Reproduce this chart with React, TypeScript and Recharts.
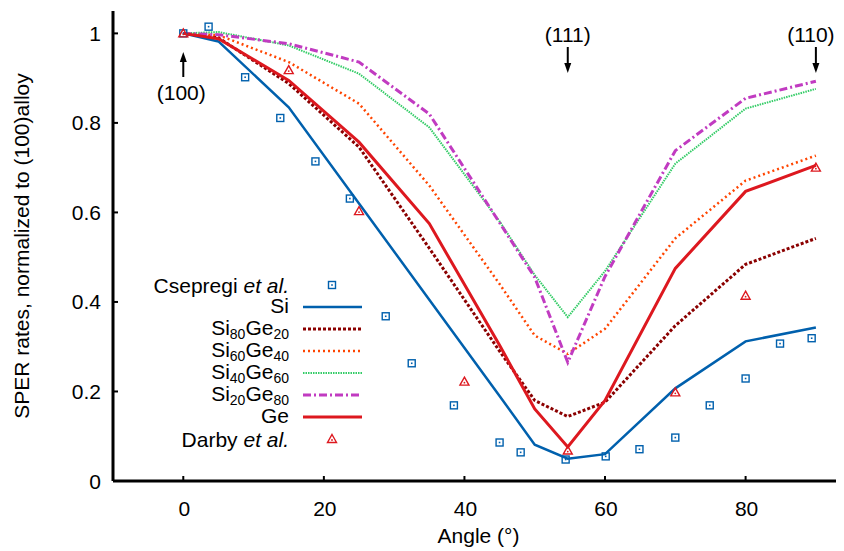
import React from "react";
import {
  ComposedChart,
  Line,
  Scatter,
  XAxis,
  YAxis,
  ReferenceDot,
  Legend,
} from "recharts";

// model curves, all computed at the same angles
const angles = [0, 5, 15, 25, 35, 45, 50, 54.7, 60, 70, 80, 90];
const siRate = [1, 0.982, 0.835, 0.62, 0.405, 0.19, 0.081, 0.05, 0.06, 0.207, 0.312, 0.343];
const si80ge20Rate = [1, 0.99, 0.888, 0.746, 0.52, 0.29, 0.18, 0.144, 0.176, 0.347, 0.484, 0.542];
const si60ge40Rate = [1, 0.996, 0.936, 0.843, 0.66, 0.44, 0.325, 0.284, 0.34, 0.542, 0.671, 0.727];
const si40ge60Rate = [1, 1.003, 0.973, 0.91, 0.79, 0.58, 0.46, 0.366, 0.469, 0.709, 0.832, 0.876];
const si20ge80Rate = [1, 0.997, 0.977, 0.936, 0.82, 0.577, 0.455, 0.265, 0.457, 0.738, 0.855, 0.893];
const geRate = [1, 0.988, 0.895, 0.757, 0.575, 0.303, 0.161, 0.076, 0.18, 0.475, 0.647, 0.705];

// experiments
const csepregiAngle = [0, 3.6, 8.8, 13.8, 18.8, 23.7, 28.8, 32.5, 38.5, 45, 48, 54.4, 60.1, 64.9, 70, 74.9, 80, 84.9, 89.4];
const csepregiRate = [1, 1.015, 0.902, 0.811, 0.714, 0.631, 0.368, 0.263, 0.169, 0.086, 0.064, 0.048, 0.055, 0.071, 0.097, 0.169, 0.229, 0.307, 0.319];
const darbyAngle = [0, 15, 25, 40, 54.7, 70, 80, 90];
const darbyRate = [1, 0.918, 0.603, 0.222, 0.068, 0.198, 0.414, 0.7];

const xTicks = [0, 20, 40, 60, 80];
const yTicks = [0, 0.2, 0.4, 0.6, 0.8, 1];

const FONT = "'Liberation Sans', Arial, Helvetica, sans-serif";
const FS = 21;
const BLUE = "#0060ad";
const RED = "#dd181f";

const toPoints = (xs: number[], ys: number[]) =>
  xs.map((angle, i) => ({ angle, rate: ys[i] }));

const curves = [
  { name: "Si", rate: siRate, color: BLUE, width: 2.5, dash: undefined },
  { name: "Si80Ge20", rate: si80ge20Rate, color: "#8b0000", width: 3, dash: "3 2" },
  { name: "Si60Ge40", rate: si60ge40Rate, color: "#ff4500", width: 2.5, dash: "2 3" },
  { name: "Si40Ge60", rate: si40ge60Rate, color: "#33cc66", width: 2, dash: "1.5 1" },
  { name: "Si20Ge80", rate: si20ge80Rate, color: "#c13bc1", width: 3, dash: "8 3 2 3" },
  { name: "Ge", rate: geRate, color: RED, width: 3, dash: undefined },
];

const SquareMark = ({ cx, cy }: any) => (
  <g>
    <rect x={cx - 3.5} y={cy - 3.5} width={7} height={7} fill="#fff" fillOpacity={0} stroke={BLUE} strokeWidth={1.4} />
    <rect x={cx - 0.8} y={cy - 0.8} width={1.6} height={1.6} fill={BLUE} />
  </g>
);

const TriangleMark = ({ cx, cy }: any) => (
  <g>
    <path d={`M${cx},${cy - 4.5}L${cx + 4.5},${cy + 3.5}L${cx - 4.5},${cy + 3.5}Z`} fill="none" stroke={RED} strokeWidth={1.4} />
    <circle cx={cx} cy={cy + 1} r={0.9} fill={RED} />
  </g>
);

const XTick = ({ x, y, payload }: any) => (
  <g>
    <line x1={x} x2={x} y1={y} y2={y - 5} stroke="#000" strokeWidth={2} />
    <text x={x + 1} y={y + 27} textAnchor="middle" dominantBaseline="central" fontFamily={FONT} fontSize={FS} fill="#000">
      {payload.value}
    </text>
  </g>
);

const TopTick = ({ x, y }: any) => (
  <line x1={x} x2={x} y1={y} y2={y + 5} stroke="#000" strokeWidth={2} />
);

const YTick = ({ x, y, payload }: any) => (
  <g>
    <line x1={x} x2={x + 5} y1={y} y2={y} stroke="#000" strokeWidth={2} />
    <text x={x - 12} y={y} textAnchor="end" dominantBaseline="central" fontFamily={FONT} fontSize={FS} fill="#000">
      {String(payload.value)}
    </text>
  </g>
);

const XTitle = ({ viewBox }: any) => (
  <text x={viewBox.x + viewBox.width / 2} y={viewBox.y + 54} textAnchor="middle" dominantBaseline="central" fontFamily={FONT} fontSize={FS} fill="#000">
    Angle (°)
  </text>
);

const YTitle = ({ viewBox }: any) => {
  const cx = viewBox.x + 13;
  const cy = viewBox.y + viewBox.height / 2;
  return (
    <text x={cx} y={cy} transform={`rotate(-90 ${cx} ${cy})`} textAnchor="middle" dominantBaseline="central" fontFamily={FONT} fontSize={FS} fill="#000">
      SPER rates, normalized to (100)alloy
    </text>
  );
};

// arrow pointing down to a curve, label above it
const downArrow = (text: string, dxText: number) => ({ cx, cy }: any) => (
  <g>
    <text x={cx + dxText} y={cy + 23} textAnchor="middle" dominantBaseline="central" fontFamily={FONT} fontSize={FS} fill="#000">
      {text}
    </text>
    <line x1={cx} x2={cx} y1={cy + 36} y2={cy + 54} stroke="#000" strokeWidth={2} />
    <path d={`M${cx - 3.5},${cy + 52}L${cx + 3.5},${cy + 52}L${cx},${cy + 62}Z`} fill="#000" />
  </g>
);

const upArrow = ({ cx, cy }: any) => (
  <g>
    <path d={`M${cx - 3.5},${cy + 51}L${cx + 3.5},${cy + 51}L${cx},${cy + 41}Z`} fill="#000" />
    <line x1={cx} x2={cx} y1={cy + 49} y2={cy + 66} stroke="#000" strokeWidth={2} />
    <text x={cx - 2} y={cy + 81} textAnchor="middle" dominantBaseline="central" fontFamily={FONT} fontSize={FS} fill="#000">
      (100)
    </text>
  </g>
);

const legendRows = ["Csepregi", ...curves.map((c) => c.name), "Darby"];

const LegendLabel = ({ name, x, y }: { name: string; x: number; y: number }) => {
  if (name === "Csepregi" || name === "Darby") {
    return (
      <text x={x} y={y} textAnchor="end" dominantBaseline="central" fontFamily={FONT} fontSize={FS}>
        {name} <tspan fontStyle="italic">et al.</tspan>
      </text>
    );
  }
  const parts = name.split(/(\d+)/).filter((p) => p !== "");
  return (
    <text x={x} y={y + 6} textAnchor="end" fontFamily={FONT} fontSize={FS}>
      {parts.map((p, i) =>
        /\d/.test(p) ? (
          <tspan key={i} fontSize={14} dy={4}>{p}</tspan>
        ) : (
          <tspan key={i} dy={i === 0 ? 0 : -4}>{p}</tspan>
        )
      )}
    </text>
  );
};

const KeyBox = () => (
  <svg width={240} height={190} style={{ overflow: "visible" }}>
    {legendRows.map((name, i) => {
      const y = 12 + i * 22;
      const curve = curves.find((c) => c.name === name);
      return (
        <g key={name}>
          <LegendLabel name={name} x={151} y={y} />
          {curve && (
            <line x1={165} x2={224} y1={y} y2={y} stroke={curve.color} strokeWidth={curve.width} strokeDasharray={curve.dash} />
          )}
          {name === "Csepregi" && <SquareMark cx={194} cy={y} />}
          {name === "Darby" && <TriangleMark cx={194} cy={y} />}
        </g>
      );
    })}
  </svg>
);

export default function App() {
  return (
    <ComposedChart width={836} height={543} margin={{ top: 3, right: 0, bottom: 0, left: 0 }}>
      <XAxis
        dataKey="angle"
        type="number"
        domain={[-10, 94]}
        ticks={xTicks}
        interval={0}
        height={70}
        tickSize={0}
        tickMargin={0}
        tickLine={false}
        axisLine={{ stroke: "#000", strokeWidth: 3 }}
        tick={<XTick />}
        label={<XTitle />}
      />
      <XAxis
        xAxisId="top"
        orientation="top"
        type="number"
        domain={[-10, 94]}
        ticks={xTicks}
        interval={0}
        height={0}
        tickSize={0}
        tickMargin={0}
        tickLine={false}
        axisLine={{ stroke: "#000", strokeWidth: 3 }}
        tick={<TopTick />}
      />
      <YAxis
        type="number"
        domain={[0, 1.05]}
        ticks={yTicks}
        interval={0}
        width={105}
        tickSize={0}
        tickMargin={0}
        tickLine={false}
        axisLine={{ stroke: "#000", strokeWidth: 3 }}
        tick={<YTick />}
        label={<YTitle />}
      />
      {curves.map((c) => (
        <Line
          key={c.name}
          name={c.name}
          data={toPoints(angles, c.rate)}
          dataKey="rate"
          type="linear"
          stroke={c.color}
          strokeWidth={c.width}
          strokeDasharray={c.dash}
          dot={false}
          activeDot={false}
          isAnimationActive={false}
        />
      ))}
      <Scatter name="Csepregi" data={toPoints(csepregiAngle, csepregiRate)} dataKey="rate" shape={<SquareMark />} isAnimationActive={false} />
      <Scatter name="Darby" data={toPoints(darbyAngle, darbyRate)} dataKey="rate" shape={<TriangleMark />} isAnimationActive={false} />
      <ReferenceDot x={0} y={1.05} r={0} ifOverflow="visible" shape={upArrow} />
      <ReferenceDot x={54.7} y={1.05} r={0} ifOverflow="visible" shape={downArrow("(111)", 0)} />
      <ReferenceDot x={90} y={1.05} r={0} ifOverflow="visible" shape={downArrow("(110)", -5)} />
      <Legend
        layout="horizontal"
        verticalAlign="middle"
        align="center"
        content={() => <KeyBox />}
        wrapperStyle={{ left: 130, top: 265, width: 240, height: 190 }}
      />
    </ComposedChart>
  );
}
